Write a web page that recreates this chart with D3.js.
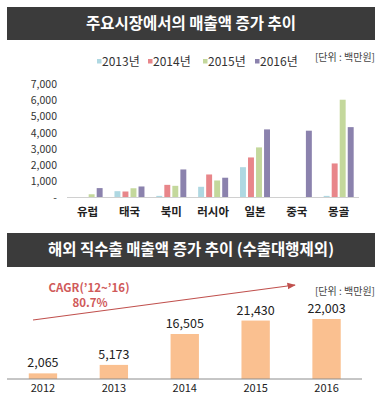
<!DOCTYPE html>
<html>
<head>
<meta charset="utf-8">
<script src="https://cdn.jsdelivr.net/npm/d3@7"></script>
<style>
  body { margin: 0; background: #fff; }
  svg text { font-family: "Noto Sans CJK KR", "Noto Sans", sans-serif; }
</style>
</head>
<body>
<div id="chart-area"></div>
<script>
const WIDTH = 389;
const HEIGHT = 400;

// top chart data
const markets = ["유럽", "태국", "북미", "러시아", "일본", "중국", "몽골"];
const years = ["2013년", "2014년", "2015년", "2016년"];
const sales2013 = [10, 390, 100, 660, 1870, 0, 100];
const sales2014 = [30, 370, 780, 1420, 2470, 0, 2100];
const sales2015 = [200, 570, 720, 1050, 3090, 0, 6030];
const sales2016 = [580, 680, 1730, 1220, 4200, 4120, 4340];
const yTicks = [0, 1000, 2000, 3000, 4000, 5000, 6000, 7000];
const yearColors = ["#afd8e2", "#e8868a", "#c4d89c", "#8b82ad"];

// bottom chart data
const exportYears = ["2012", "2013", "2014", "2015", "2016"];
const exportSales = [2065, 5173, 16505, 21430, 22003];

const svg = d3.select("#chart-area").append("svg").attr("width", WIDTH).attr("height", HEIGHT);

// ---------- title bars
const titleBar = (y, h, label) => {
    svg.append("rect").attr("x", 7).attr("y", y).attr("width", 368).attr("height", h).attr("fill", "#3b3b3b");
    svg.append("text").attr("x", 191).attr("y", y + h / 2 + 1).
        attr("text-anchor", "middle").attr("dominant-baseline", "middle").
        attr("font-size", "15.5px").attr("font-weight", "bold").attr("fill", "#fff").
        text(label);
};
titleBar(7, 33, "주요시장에서의 매출액 증가 추이");
titleBar(233, 34, "해외 직수출 매출액 증가 추이 (수출대행제외)");

// ---------- top chart
const series = [sales2013, sales2014, sales2015, sales2016];
const x = d3.scaleBand().domain(markets).range([66.7, 359.6]);
const xInner = d3.scaleBand().domain(years).range([-15, 15]).paddingInner(0.26);
const y = d3.scaleLinear().domain([0, 7000]).range([197.5, 84]);

// legend
const legendX = [97, 148, 203, 255];
const legend = svg.append("g");
years.forEach((yr, i) => {
    legend.append("rect").attr("x", legendX[i]).attr("y", 59).attr("width", 4.5).attr("height", 4.5).attr("fill", yearColors[i]);
    legend.append("text").attr("x", legendX[i] + 5).attr("y", 66).
        attr("font-size", "12px").attr("fill", "#333").text(yr);
});
svg.append("text").attr("x", 375).attr("y", 61).attr("text-anchor", "end").
    attr("font-size", "10px").attr("fill", "#444").text("[단위 : 백만원]");

const yAxisCall = d3.axisLeft(y).tickValues(yTicks).tickSize(0).
    tickFormat(d => d === 0 ? "-" : d3.format(",")(d));
svg.append("g").attr("class", "y axis").attr("transform", "translate(57,0)").
    call(yAxisCall).
    call(g => g.select(".domain").remove()).
    selectAll("text").
    attr("x", 0).
    attr("font-size", "10.5px").
    attr("fill", "#333").
    attr("font-family", "DejaVu Sans, sans-serif");

const groups = svg.selectAll("g.market").data(markets).enter().append("g").
    attr("class", "market").
    attr("transform", m => `translate(${x(m) + x.bandwidth() / 2},0)`);

groups.selectAll("rect").data((m, i) => series.map((s, j) => ({ year: years[j], value: s[i], color: yearColors[j] }))).
    enter().append("rect").
    attr("x", d => xInner(d.year)).
    attr("y", d => y(d.value)).
    attr("width", xInner.bandwidth()).
    attr("height", d => y(0) - y(d.value)).
    attr("fill", d => d.color);

svg.append("line").attr("x1", 67).attr("x2", 359).attr("y1", y(0)).attr("y2", y(0)).
    attr("stroke", "#d0d0d0").attr("stroke-width", 1);

const xAxisCall = d3.axisBottom(x).tickSize(0);
svg.append("g").attr("class", "bottom axis").attr("transform", `translate(0,${y(0)})`).
    call(xAxisCall).
    call(g => g.select(".domain").remove()).
    selectAll("text").
    attr("y", 10).
    attr("font-size", "11.5px").
    attr("font-weight", "bold").
    attr("fill", "#222").
    attr("font-family", "Noto Sans CJK KR, sans-serif");

// ---------- bottom chart
const x2 = d3.scaleBand().domain(exportYears).range([7.5, 362]).paddingInner(0.6).paddingOuter(0.3);
const y2 = d3.scaleLinear().domain([0, 22003]).range([379, 319]);

svg.selectAll("rect.export").data(exportSales).enter().append("rect").
    attr("class", "export").
    attr("x", (d, i) => x2(exportYears[i])).
    attr("y", d => y2(d)).
    attr("width", x2.bandwidth()).
    attr("height", d => y2(0) - y2(d)).
    attr("fill", "#fac090");

svg.selectAll("text.value").data(exportSales).enter().append("text").
    attr("class", "value").
    attr("x", (d, i) => x2(exportYears[i]) + x2.bandwidth() / 2).
    attr("y", d => y2(d) - 6).
    attr("text-anchor", "middle").
    attr("font-size", "12.5px").
    attr("fill", "#222").
    attr("font-family", "Liberation Sans, Arial, sans-serif").
    text(d => d3.format(",")(d));

svg.append("line").attr("x1", 7).attr("x2", 362).attr("y1", 379).attr("y2", 379).
    attr("stroke", "#8c8c8c").attr("stroke-width", 1);

svg.append("g").attr("transform", "translate(0,379)").
    call(d3.axisBottom(x2).tickSize(0)).
    call(g => g.select(".domain").remove()).
    selectAll("text").
    attr("y", 5).
    attr("font-size", "11px").
    attr("fill", "#222").
    attr("font-family", "Liberation Sans, Arial, sans-serif");

svg.append("text").attr("x", 375).attr("y", 295).attr("text-anchor", "end").
    attr("font-size", "10px").attr("fill", "#444").text("[단위 : 백만원]");

// CAGR arrow
svg.append("defs").append("marker").attr("id", "arrow").
    attr("viewBox", "0 0 10 10").attr("refX", 9).attr("refY", 5).
    attr("markerWidth", 7).attr("markerHeight", 7).attr("orient", "auto").
    append("path").attr("d", "M0,1 L10,5 L0,9 Z").attr("fill", "#c0504d");
svg.append("line").attr("x1", 33).attr("y1", 320).attr("x2", 295).attr("y2", 285).
    attr("stroke", "#c0504d").attr("stroke-width", 1.2).attr("marker-end", "url(#arrow)");

svg.append("text").attr("x", 89).attr("y", 292).attr("text-anchor", "middle").
    attr("font-size", "11.5px").attr("font-weight", "bold").attr("fill", "#d05a5a").
    text("CAGR(’12~’16)");
svg.append("text").attr("x", 90).attr("y", 307).attr("text-anchor", "middle").
    attr("font-size", "11.5px").attr("font-weight", "bold").attr("fill", "#d05a5a").
    text("80.7%");
</script>
</body>
</html>
